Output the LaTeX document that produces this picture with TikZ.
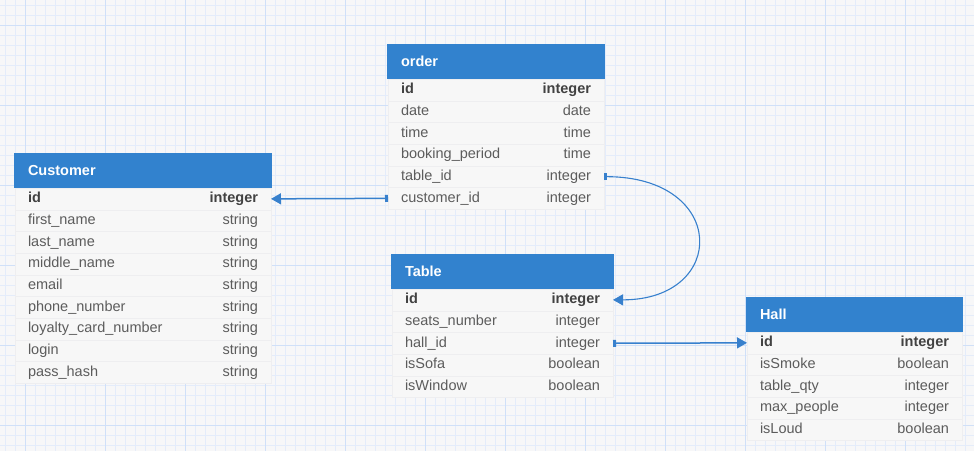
\documentclass[tikz,border=0pt]{standalone}
\usepackage{fontspec}
\setmainfont{Liberation Sans}
\usetikzlibrary{positioning, arrows.meta}

\definecolor{bgcol}{RGB}{247,247,248}
\definecolor{gridminor}{RGB}{228,236,250}
\definecolor{gridmajor}{RGB}{208,224,248}
\definecolor{hdrblue}{RGB}{50,130,206}
\definecolor{rowbg}{RGB}{247,247,247}
\definecolor{rowline}{RGB}{238,238,240}
\definecolor{fldtext}{RGB}{92,92,92}
\definecolor{keytext}{RGB}{66,66,66}
\definecolor{linkblue}{RGB}{55,128,205}

\begin{document}
\begin{tikzpicture}[
  x=1pt, y=-1pt,
  head/.style={
    fill=hdrblue, text=white, anchor=north west, outer sep=0pt,
    minimum height=35pt, inner xsep=14pt, inner ysep=0pt,
    font=\fontsize{14.5}{16}\selectfont\bfseries
  },
  fld/.style={
    draw=rowline, fill=rowbg, text=fldtext, outer sep=0pt,
    minimum height=21.7pt, inner xsep=13pt, inner ysep=0pt,
    text height=10.5pt, text depth=3pt,
    font=\fontsize{14.5}{16}\selectfont
  },
  keyfld/.style={fld, text=keytext, font=\fontsize{14.5}{16}\selectfont\bfseries},
  ordw/.style={text width=190pt},
  cusw/.style={text width=230pt},
  tabw/.style={text width=195pt},
  hallw/.style={text width=189pt},
  link/.style={draw=linkblue, line width=1.5pt,
    {Bar[width=7pt, line width=3pt]}-{Triangle[length=10pt, width=11pt]}},
]

% ===== Background and grid =====
\fill[bgcol] (0,0) rectangle (974,451);
\useasboundingbox (0,0) rectangle (974,451);
\foreach \x in {5,15,...,974} \draw[gridminor, line width=0.6pt] (\x,0) -- (\x,451);
\foreach \y in {5,15,...,451} \draw[gridminor, line width=0.6pt] (0,\y) -- (974,\y);
\foreach \x in {25,105,...,974} \draw[gridmajor, line width=0.8pt] (\x,0) -- (\x,451);
\foreach \y in {25,105,...,451} \draw[gridmajor, line width=0.8pt] (0,\y) -- (974,\y);

% ===== order =====
\node[head, ordw] (ord) at (387,44) {order};
\node[keyfld, ordw, below=0pt of ord] (o1) {id\hfill integer};
\node[fld, ordw, below=0pt of o1] (o2) {date\hfill date};
\node[fld, ordw, below=0pt of o2] (o3) {time\hfill time};
\node[fld, ordw, below=0pt of o3] (o4) {booking\_period\hfill time};
\node[fld, ordw, below=0pt of o4] (o5) {table\_id\hfill integer};
\node[fld, ordw, below=0pt of o5] (o6) {customer\_id\hfill integer};

% ===== Customer =====
\node[head, cusw] (cus) at (14,153) {Customer};
\node[keyfld, cusw, below=0pt of cus] (c1) {id\hfill integer};
\node[fld, cusw, below=0pt of c1] (c2) {first\_name\hfill string};
\node[fld, cusw, below=0pt of c2] (c3) {last\_name\hfill string};
\node[fld, cusw, below=0pt of c3] (c4) {middle\_name\hfill string};
\node[fld, cusw, below=0pt of c4] (c5) {email\hfill string};
\node[fld, cusw, below=0pt of c5] (c6) {phone\_number\hfill string};
\node[fld, cusw, below=0pt of c6] (c7) {loyalty\_card\_number\hfill string};
\node[fld, cusw, below=0pt of c7] (c8) {login\hfill string};
\node[fld, cusw, below=0pt of c8] (c9) {pass\_hash\hfill string};

% ===== Table =====
\node[head, tabw] (tab) at (391,254) {Table};
\node[keyfld, tabw, below=0pt of tab] (t1) {id\hfill integer};
\node[fld, tabw, below=0pt of t1] (t2) {seats\_number\hfill integer};
\node[fld, tabw, below=0pt of t2] (t3) {hall\_id\hfill integer};
\node[fld, tabw, below=0pt of t3] (t4) {isSofa\hfill boolean};
\node[fld, tabw, below=0pt of t4] (t5) {isWindow\hfill boolean};

% ===== Hall =====
\node[head, hallw] (hall) at (746,297) {Hall};
\node[keyfld, hallw, below=0pt of hall] (h1) {id\hfill integer};
\node[fld, hallw, below=0pt of h1] (h2) {isSmoke\hfill boolean};
\node[fld, hallw, below=0pt of h2] (h3) {table\_qty\hfill integer};
\node[fld, hallw, below=0pt of h3] (h4) {max\_people\hfill integer};
\node[fld, hallw, below=0pt of h4] (h5) {isLoud\hfill boolean};

% ===== Links =====
\draw[link] (o6.west) -- (c1.east);
\draw[link, line width=1.1pt] (o5.east) .. controls +(124,0) and +(115,0) .. (t1.east);
\draw[link] (t3.east) -- (h1.west);

\end{tikzpicture}
\end{document}
